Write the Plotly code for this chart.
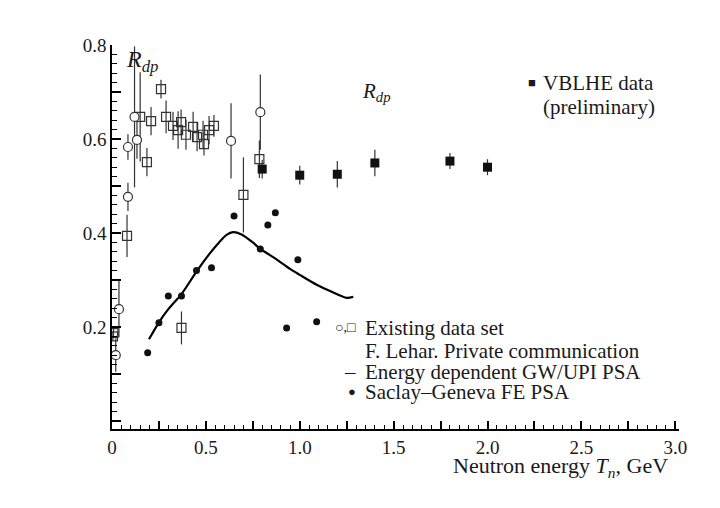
import plotly.graph_objects as go

# Existing data set (open circles)
circ_x = [0.02, 0.037, 0.085, 0.085, 0.12, 0.133, 0.634, 0.79]
circ_y = [0.14, 0.238, 0.477, 0.583, 0.647, 0.598, 0.596, 0.657]
circ_err = [0.035, 0.06, 0.03, 0.027, 0.15, 0.04, 0.08, 0.08]

# Existing data set (open squares)
sq_x = [0.005, 0.008, 0.08, 0.15, 0.186, 0.208, 0.261, 0.288, 0.325, 0.352, 0.368,
        0.394, 0.432, 0.453, 0.485, 0.49, 0.517, 0.543, 0.37, 0.70, 0.785]
sq_y = [0.18, 0.187, 0.394, 0.647, 0.551, 0.638, 0.706, 0.647, 0.628, 0.619, 0.636,
        0.609, 0.626, 0.604, 0.609, 0.589, 0.619, 0.628, 0.198, 0.481, 0.557]
sq_err = [0.01, 0.01, 0.045, 0.095, 0.03, 0.03, 0.02, 0.035, 0.03, 0.04, 0.027,
          0.032, 0.032, 0.03, 0.03, 0.024, 0.03, 0.023, 0.035, 0.08, 0.04]

# VBLHE data (preliminary)
vb_x = [0.8, 1.0, 1.2, 1.4, 1.8, 2.0]
vb_y = [0.536, 0.523, 0.525, 0.549, 0.553, 0.540]
vb_err = [0.02, 0.02, 0.028, 0.028, 0.017, 0.017]

# Saclay-Geneva FE PSA
sg_x = [0.19, 0.25, 0.30, 0.37, 0.45, 0.53, 0.65, 0.79, 0.83, 0.87, 0.93, 0.99, 1.09]
sg_y = [0.145, 0.209, 0.266, 0.266, 0.32, 0.326, 0.436, 0.366, 0.417, 0.443, 0.198, 0.343, 0.211]

# Energy dependent GW/UPI PSA
psa_x = [0.197, 0.25, 0.30, 0.37, 0.45, 0.52, 0.57, 0.61, 0.645, 0.69, 0.75, 0.79, 0.88,
         0.95, 1.0, 1.09, 1.17, 1.25, 1.285]
psa_y = [0.174, 0.21, 0.238, 0.27, 0.318, 0.356, 0.38, 0.396, 0.402, 0.397, 0.38, 0.366, 0.343,
         0.323, 0.311, 0.29, 0.275, 0.262, 0.264]

FONT = "Liberation Serif"
INK = "#1a1a1a"
ERR = dict(type="data", visible=True, width=0, thickness=1.2, color="#333")

fig = go.Figure()

fig.add_trace(go.Scatter(
    x=psa_x, y=psa_y, mode="lines", line=dict(color="black", width=2.2, shape="spline", smoothing=0.7),
))
fig.add_trace(go.Scatter(
    x=sq_x, y=sq_y, mode="markers", error_y=dict(array=sq_err, **ERR),
    marker=dict(symbol="square-open", size=9, color="#333", line=dict(width=1.2)),
))
fig.add_trace(go.Scatter(
    x=circ_x, y=circ_y, mode="markers", error_y=dict(array=circ_err, **ERR),
    marker=dict(symbol="circle", size=9, color="white", line=dict(width=1.2, color="#333")),
))
fig.add_trace(go.Scatter(
    x=vb_x, y=vb_y, mode="markers", error_y=dict(array=vb_err, **ERR),
    marker=dict(symbol="square", size=9, color="#111"),
))
fig.add_trace(go.Scatter(
    x=sg_x, y=sg_y, mode="markers",
    marker=dict(symbol="circle", size=7, color="#111"),
))

ann = []
def text(x, y, s, anchor="left", size=21):
    ann.append(dict(x=x, y=y, xref="x", yref="y", text=s, showarrow=False,
                    xanchor=anchor, yanchor="middle",
                    font=dict(family=FONT, size=size, color=INK)))

text(0.065, 0.765, "<i>R</i><sub><i>dp</i></sub>", size=24)
text(1.32, 0.70, "<i>R</i><sub><i>dp</i></sub>", size=21)
text(2.27, 0.72, "■", anchor="right", size=13)
text(2.286, 0.72, "VBLHE data")
text(2.286, 0.668, "(preliminary)")
text(1.31, 0.198, "○,□", anchor="right", size=14)
text(1.337, 0.198, "Existing data set")
text(1.337, 0.149, "F. Lehar. Private communication")
text(1.31, 0.104, "–", anchor="right")
text(1.337, 0.104, "Energy dependent GW/UPI PSA")
text(1.31, 0.062, "●", anchor="right", size=13)
text(1.337, 0.062, "Saclay–Geneva FE PSA")

ann.append(dict(x=0.984, y=-0.1, xref="paper", yref="paper", showarrow=False,
                xanchor="right", yanchor="middle",
                text="Neutron energy <i>T</i><sub><i>n</i></sub>, GeV",
                font=dict(family=FONT, size=22, color=INK)))

fig.update_layout(
    width=720, height=508,
    margin=dict(l=112, r=41, t=45, b=79),
    showlegend=False,
    annotations=ann,
    xaxis=dict(range=[0, 3.02], showgrid=False, zeroline=False, showline=True,
               linecolor="black", linewidth=1.5,
               tick0=0, dtick=0.25, ticklabelstep=2, tickformat=".1f", labelalias={"0.0": "0"},
               ticks="inside", ticklen=8, tickwidth=2, tickcolor="black",
               minor=dict(dtick=0.05, ticks="inside", ticklen=4, tickwidth=1, tickcolor="black"),
               tickfont=dict(family=FONT, size=19, color=INK)),
    yaxis=dict(range=[-0.017, 0.8], showgrid=False, zeroline=False, showline=True,
               linecolor="black", linewidth=1.5,
               tick0=0, dtick=0.1, ticklabelstep=2, tickformat=".1f", labelalias={"0.0": " "},
               ticks="inside", ticklen=9, tickwidth=2, tickcolor="black",
               minor=dict(dtick=0.02, ticks="inside", ticklen=5, tickwidth=1, tickcolor="black"),
               tickfont=dict(family=FONT, size=19, color=INK)),
    plot_bgcolor="white", paper_bgcolor="white",
)

fig.write_html("out.html")
